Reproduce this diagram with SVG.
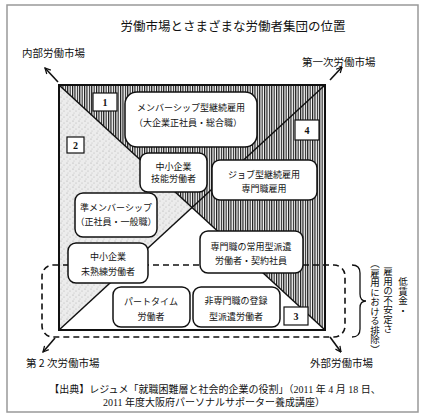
<svg xmlns="http://www.w3.org/2000/svg" width="425" height="417" viewBox="0 0 425 417">
<style>
text{font-family:"Noto Sans CJK JP","Noto Sans",sans-serif;fill:#111}
.ttl{font-size:12.5px}
.lbl{font-size:10.5px}
.bt{font-size:9px;text-anchor:middle}
.num{font-family:"Liberation Serif",serif;font-weight:bold;font-size:10px;text-anchor:middle}
.box{fill:#fff;stroke:#111;stroke-width:1.5}
.nb{fill:#fff;stroke:#111;stroke-width:1.2}
.vt{font-size:9.5px;writing-mode:vertical-rl}
.foot{font-family:"Liberation Serif","Noto Sans CJK JP",serif;font-size:10px;text-anchor:middle}
.arr{fill:none;stroke:#111;stroke-width:1.6;marker-end:url(#ah)}
</style>
<defs>
<pattern id="hatch" patternUnits="userSpaceOnUse" width="2.4" height="10">
<rect width="2.4" height="10" fill="#fff"/>
<rect width="1.15" height="10" fill="#111"/>
</pattern>
<pattern id="speck" patternUnits="userSpaceOnUse" width="6" height="6">
<rect width="6" height="6" fill="#ececec"/>
<circle cx="1" cy="1" r="0.5" fill="#999"/>
<circle cx="4" cy="3" r="0.5" fill="#aaa"/>
<circle cx="2" cy="5" r="0.4" fill="#999"/>
</pattern>
<marker id="ah" viewBox="0 0 10 10" refX="9" refY="5" markerWidth="7" markerHeight="7" orient="auto" markerUnits="userSpaceOnUse">
<path d="M1,1 L9,5 L1,9" fill="none" stroke="#111" stroke-width="1.8"/>
</marker>
</defs>
<rect x="0" y="0" width="425" height="417" fill="#fff"/>
<rect x="7" y="5" width="411" height="407" fill="#fff" stroke="#999" stroke-width="1.5"/>

<g id="title"><text class="ttl" x="233" y="30.5" text-anchor="middle">労働市場とさまざまな労働者集団の位置</text></g>

<g id="regions">
<polygon points="59,85 325,85 325,330" fill="url(#hatch)"/>
<polygon points="59,85 59,330 192,207.5" fill="url(#speck)"/>
<polygon points="59,330 325,330 192,207.5" fill="#fff"/>
<rect x="59" y="85" width="266" height="245" fill="none" stroke="#111" stroke-width="2"/>
</g>

<g id="connectors">
<line x1="59" y1="85" x2="325" y2="330" stroke="#111" stroke-width="1.5"/>
<line x1="59" y1="330" x2="325" y2="85" stroke="#111" stroke-width="1.5"/>
<rect x="42" y="265" width="303" height="72" rx="11" fill="none" stroke="#111" stroke-width="1.6" stroke-dasharray="6,4"/>
<line class="arr" x1="58" y1="82" x2="45" y2="68"/>
<line class="arr" x1="330" y1="80" x2="342" y2="67"/>
<line class="arr" x1="55" y1="338" x2="43" y2="352"/>
<line class="arr" x1="330" y1="337" x2="341" y2="352"/>
<path d="M352,265 Q360,265 360,273 L360,294 Q360,301 366,301 Q360,301 360,308 L360,329 Q360,337 352,337" fill="none" stroke="#111" stroke-width="1.3"/>
</g>

<g id="label-naibu"><text class="lbl" x="22" y="57">内部労働市場</text></g>
<g id="label-daiichiji"><text class="lbl" x="302" y="66">第一次労働市場</text></g>
<g id="label-dainiji"><text class="lbl" x="26" y="367">第 2 次労働市場</text></g>
<g id="label-gaibu"><text class="lbl" x="310" y="367">外部労働市場</text></g>

<g id="num1"><rect class="nb" x="93" y="93" width="24" height="18"/><text class="num" x="105" y="105.5">1</text></g>
<g id="num2"><rect class="nb" x="67" y="137" width="17" height="16"/><text class="num" x="75.5" y="148.5">2</text></g>
<g id="num3"><rect class="nb" x="284" y="307" width="24" height="18"/><text class="num" x="296" y="319.5">3</text></g>
<g id="num4"><rect class="nb" x="295" y="120" width="24" height="20"/><text class="num" x="307" y="133.5">4</text></g>

<g id="boxA"><rect class="box" x="125" y="92" width="132" height="55" rx="12"/>
<text class="bt" x="191" y="110.5">メンバーシップ型継続雇用</text>
<text class="bt" x="188" y="125.5">（大企業正社員・総合職）</text></g>
<g id="boxB"><rect class="box" x="140" y="153" width="67" height="39" rx="8"/>
<text class="bt" x="173.5" y="170">中小企業</text>
<text class="bt" x="173.5" y="182">技能労働者</text></g>
<g id="boxC"><rect class="box" x="212" y="160" width="105" height="40" rx="8"/>
<text class="bt" x="264" y="178">ジョブ型継続雇用</text>
<text class="bt" x="264" y="192">専門職雇用</text></g>
<g id="boxD"><rect class="box" x="75" y="193" width="82" height="44" rx="8"/>
<text class="bt" x="116" y="211">準メンバーシップ</text>
<text class="bt" x="116" y="225">（正社員・一般職）</text></g>
<g id="boxE"><rect class="box" x="68" y="243" width="80" height="40" rx="8"/>
<text class="bt" x="108" y="260">中小企業</text>
<text class="bt" x="108" y="275">未熟練労働者</text></g>
<g id="boxF"><rect class="box" x="200" y="231" width="103" height="42" rx="8"/>
<text class="bt" x="251" y="250">専門職の常用型派遣</text>
<text class="bt" x="251" y="263.5">労働者・契約社員</text></g>
<g id="boxG"><rect class="box" x="113" y="287" width="77" height="40" rx="8"/>
<text class="bt" x="151" y="305">パートタイム</text>
<text class="bt" x="151" y="320">労働者</text></g>
<g id="boxH"><rect class="box" x="193" y="287" width="87" height="40" rx="8"/>
<text class="bt" x="236" y="304">非専門職の登録</text>
<text class="bt" x="236" y="320">型派遣労働者</text></g>

<g id="note">
<text class="vt" x="403" y="277">低賃金・</text>
<text class="vt" x="388" y="267">雇用の不安定さ</text>
<text class="vt" x="375" y="259">（雇用における排除）</text>
</g>

<g id="source">
<text class="foot" x="215" y="393">【出典】レジュメ「就職困難層と社会的企業の役割」（2011 年 4 月 18 日、</text>
<text class="foot" x="214" y="406">2011 年度大阪府パーソナルサポーター養成講座）</text>
</g>
</svg>
